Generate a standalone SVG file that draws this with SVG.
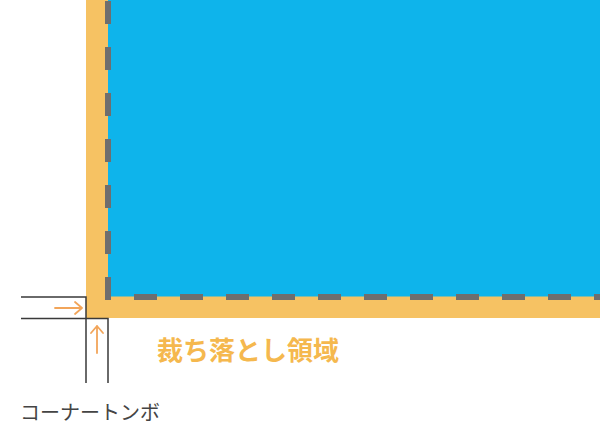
<svg xmlns="http://www.w3.org/2000/svg" width="600" height="430" viewBox="0 0 600 430">
<style>
.mark{stroke:#3a3a3a;stroke-width:1.5;fill:none}
.arrow{stroke:#F2A55A;stroke-width:1.8;fill:none;stroke-linecap:round;stroke-linejoin:round}
</style>
<rect width="600" height="430" fill="#ffffff"/>
<g id="bleed">
<rect x="86" y="0" width="514" height="318" fill="#F6C263"/>
</g>
<g id="trim">
<rect x="108" y="0" width="492" height="296.5" fill="#0EB4EB"/>
<path d="M108,1 V297 H600" fill="none" stroke="#6E6E6E" stroke-width="6" stroke-dasharray="23 23"/>
</g>
<g id="corner-marks">
<path class="mark" d="M21,297 H86 V383"/>
<path class="mark" d="M21,318.5 H108 V383"/>
</g>
<g id="connectors">
<path class="arrow" d="M55,308 H82 M75,302 L82,308 L75,314"/>
<path class="arrow" d="M97,353 V326 M91,333 L97,326 L103,333"/>
</g>
<g id="labels">
<text x="157" y="360" font-family="'Noto Sans CJK JP', sans-serif" font-size="26" font-weight="bold" fill="#F5B84E">裁ち落とし領域</text>
<text x="20" y="420" font-family="'Noto Sans CJK JP', sans-serif" font-size="20" fill="#444444">コーナートンボ</text>
</g>
</svg>
